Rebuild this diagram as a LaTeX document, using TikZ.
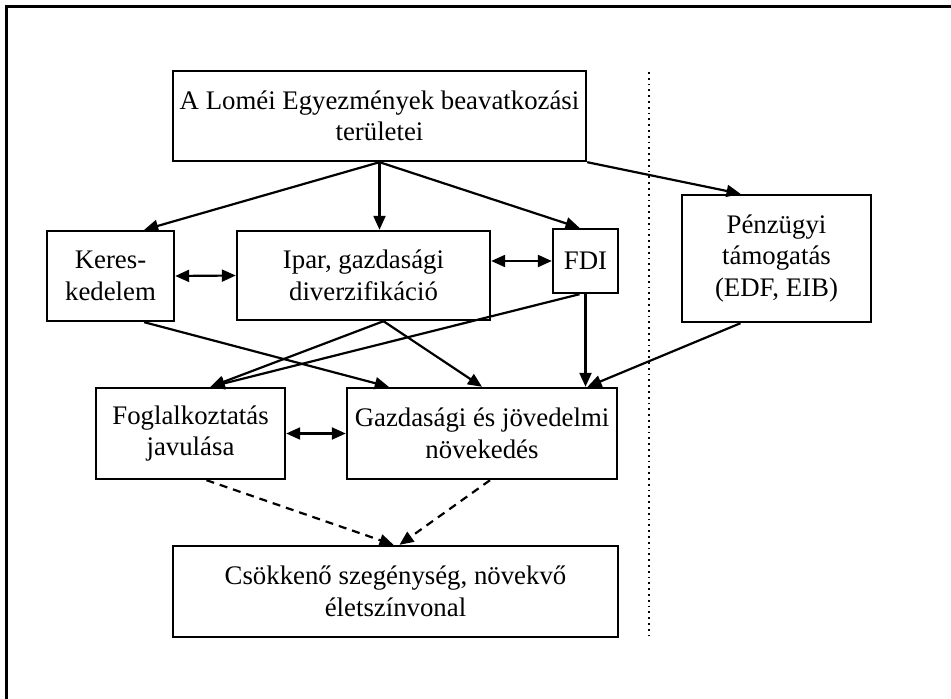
\documentclass[tikz,border=0pt]{standalone}
\usepackage{fontspec}
\setmainfont{Liberation Serif}
\usetikzlibrary{arrows.meta, positioning}

\begin{document}
\begin{tikzpicture}[x=0.5pt, y=-0.5pt,
        box/.style={draw, line width=1.2pt, align=center, inner sep=0pt,
            font=\fontsize{13.4}{15.8}\selectfont},
        arr/.style={line width=1.1pt, -{Triangle[length=7pt,width=6pt]}},
        dblarr/.style={line width=1.1pt, {Triangle[length=7pt,width=6pt]}-{Triangle[length=7pt,width=6pt]}},
        dasharr/.style={arr, dash pattern=on 4pt off 3pt}]
        \useasboundingbox (0,0) rectangle (951,699);
        % frame and separator
        \draw [line width=1.5pt] (6,699) -- (6,7) -- (955,7);
        \draw [dotted, line width=0.9pt] (649,72) -- (649,638);
        % boxes
        \node [box, minimum width=206.5pt, minimum height=45pt] (lome) at (379.5,116) {A Loméi Egyezmények beavatkozási\\területei};
        \node [box, minimum width=63.5pt, minimum height=45pt] (keres) at (110.5,276) {Keres-\\kedelem};
        \node [box, minimum width=126.5pt, minimum height=44.5pt] (ipar) at (363.5,275.5) {Ipar, gazdasági\\diverzifikáció};
        \node [box, minimum width=32.5pt, minimum height=32pt] (fdi) at (585.5,261) {FDI};
        \node [box, minimum width=94.5pt, minimum height=63.5pt] (penz) at (776.5,258.5) {Pénzügyi\\támogatás\\(EDF, EIB)};
        \node [box, minimum width=94.5pt, minimum height=45.5pt] (fogl) at (190.5,433.5) {Foglalkoztatás\\javulása};
        \node [box, minimum width=135pt, minimum height=45.5pt] (gazd) at (482,433.5) {Gazdasági és jövedelmi\\növekedés};
        \node [box, minimum width=222.5pt, minimum height=45.5pt] (csokk) at (395.5,591.5) {Csökkenő szegénység, növekvő\\életszínvonal};
        % arrows from the top box
        \draw [arr] (lome.south) -- ([xshift=-15.5pt]keres.north east);
        \draw [arr] (lome.south) -- (lome.south |- ipar.north);
        \draw [arr] (lome.south) -- ([xshift=-3pt]fdi.north);
        \draw [arr] (lome.south east) -- ([xshift=-18pt]penz.north);
        % two-way arrows
        \draw [dblarr] (keres.east) -- (ipar.west);
        \draw [dblarr] (fdi.west -| ipar.east) -- (fdi.west);
        \draw [dblarr] (fogl.east) -- (gazd.west);
        % middle level
        \draw [arr] ([xshift=-15.5pt]keres.south east) -- ([xshift=21.5pt]gazd.north west);
        \draw [arr] ([xshift=10pt]ipar.south) -- ([xshift=10pt]fogl.north);
        \draw [arr] ([xshift=10pt]ipar.south) -- (gazd.north);
        \draw [arr] ([xshift=-3pt]fdi.south) -- ([xshift=10pt]fogl.north);
        \draw [arr] (fdi.south) -- (fdi.south |- gazd.north);
        \draw [arr] ([xshift=-18pt]penz.south) -- ([xshift=1pt]fdi.south |- gazd.north);
        % dashed
        \draw [dasharr] ([xshift=8pt]fogl.south) -- ([xshift=-1pt]csokk.north);
        \draw [dasharr] ([xshift=4pt]gazd.south) -- ([xshift=2pt]csokk.north);
\end{tikzpicture}
\end{document}
